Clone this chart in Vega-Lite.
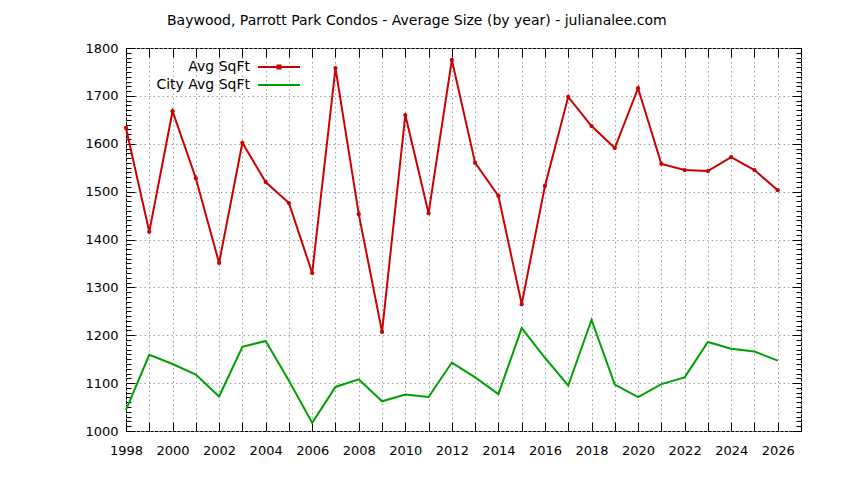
{
  "$schema": "https://vega.github.io/schema/vega-lite/v6.json",
  "description": "Baywood, Parrott Park condos: average size by year against the city average",
  "autosize": "none",
  "padding": {"left": 126, "top": 48, "right": 43, "bottom": 49},
  "width": 675,
  "height": 383,
  "title": {
    "text": "Baywood, Parrott Park Condos - Average Size (by year) - julianalee.com",
    "anchor": "start",
    "frame": "group",
    "dx": 41,
    "offset": 3,
    "baseline": "alphabetic",
    "font": "DejaVu Sans",
    "fontSize": 14,
    "fontWeight": "normal",
    "color": "black"
  },
  "data": {
    "values": [
      {"year": 1998, "series": "Avg SqFt", "sqft": 1633},
      {"year": 1999, "series": "Avg SqFt", "sqft": 1416},
      {"year": 2000, "series": "Avg SqFt", "sqft": 1668},
      {"year": 2001, "series": "Avg SqFt", "sqft": 1528},
      {"year": 2002, "series": "Avg SqFt", "sqft": 1351},
      {"year": 2003, "series": "Avg SqFt", "sqft": 1602},
      {"year": 2004, "series": "Avg SqFt", "sqft": 1520},
      {"year": 2005, "series": "Avg SqFt", "sqft": 1476},
      {"year": 2006, "series": "Avg SqFt", "sqft": 1330},
      {"year": 2007, "series": "Avg SqFt", "sqft": 1758},
      {"year": 2008, "series": "Avg SqFt", "sqft": 1453},
      {"year": 2009, "series": "Avg SqFt", "sqft": 1207},
      {"year": 2010, "series": "Avg SqFt", "sqft": 1660},
      {"year": 2011, "series": "Avg SqFt", "sqft": 1455},
      {"year": 2012, "series": "Avg SqFt", "sqft": 1775},
      {"year": 2013, "series": "Avg SqFt", "sqft": 1560},
      {"year": 2014, "series": "Avg SqFt", "sqft": 1491},
      {"year": 2015, "series": "Avg SqFt", "sqft": 1265},
      {"year": 2016, "series": "Avg SqFt", "sqft": 1512},
      {"year": 2017, "series": "Avg SqFt", "sqft": 1698},
      {"year": 2018, "series": "Avg SqFt", "sqft": 1637},
      {"year": 2019, "series": "Avg SqFt", "sqft": 1591},
      {"year": 2020, "series": "Avg SqFt", "sqft": 1716},
      {"year": 2021, "series": "Avg SqFt", "sqft": 1558},
      {"year": 2022, "series": "Avg SqFt", "sqft": 1545},
      {"year": 2023, "series": "Avg SqFt", "sqft": 1543},
      {"year": 2024, "series": "Avg SqFt", "sqft": 1572},
      {"year": 2025, "series": "Avg SqFt", "sqft": 1545},
      {"year": 2026, "series": "Avg SqFt", "sqft": 1503},
      {"year": 1998, "series": "City Avg SqFt", "sqft": 1044},
      {"year": 1999, "series": "City Avg SqFt", "sqft": 1159},
      {"year": 2000, "series": "City Avg SqFt", "sqft": 1140},
      {"year": 2001, "series": "City Avg SqFt", "sqft": 1118},
      {"year": 2002, "series": "City Avg SqFt", "sqft": 1072},
      {"year": 2003, "series": "City Avg SqFt", "sqft": 1176},
      {"year": 2004, "series": "City Avg SqFt", "sqft": 1188},
      {"year": 2005, "series": "City Avg SqFt", "sqft": 1105},
      {"year": 2006, "series": "City Avg SqFt", "sqft": 1017},
      {"year": 2007, "series": "City Avg SqFt", "sqft": 1092},
      {"year": 2008, "series": "City Avg SqFt", "sqft": 1108},
      {"year": 2009, "series": "City Avg SqFt", "sqft": 1062},
      {"year": 2010, "series": "City Avg SqFt", "sqft": 1076},
      {"year": 2011, "series": "City Avg SqFt", "sqft": 1071},
      {"year": 2012, "series": "City Avg SqFt", "sqft": 1143},
      {"year": 2013, "series": "City Avg SqFt", "sqft": 1112},
      {"year": 2014, "series": "City Avg SqFt", "sqft": 1077},
      {"year": 2015, "series": "City Avg SqFt", "sqft": 1215},
      {"year": 2016, "series": "City Avg SqFt", "sqft": 1153},
      {"year": 2017, "series": "City Avg SqFt", "sqft": 1095},
      {"year": 2018, "series": "City Avg SqFt", "sqft": 1232},
      {"year": 2019, "series": "City Avg SqFt", "sqft": 1097},
      {"year": 2020, "series": "City Avg SqFt", "sqft": 1071},
      {"year": 2021, "series": "City Avg SqFt", "sqft": 1098},
      {"year": 2022, "series": "City Avg SqFt", "sqft": 1112},
      {"year": 2023, "series": "City Avg SqFt", "sqft": 1186},
      {"year": 2024, "series": "City Avg SqFt", "sqft": 1172},
      {"year": 2025, "series": "City Avg SqFt", "sqft": 1166},
      {"year": 2026, "series": "City Avg SqFt", "sqft": 1147}
    ]
  },
  "layer": [
    {
      "mark": {"type": "line", "strokeWidth": 2},
      "encoding": {
        "x": {
          "field": "year",
          "type": "quantitative",
          "scale": {"domain": [1998, 2027], "nice": false, "zero": false},
          "axis": {
            "orient": "bottom",
            "title": null,
            "format": "d",
            "values": [1998, 1999, 2000, 2001, 2002, 2003, 2004, 2005, 2006, 2007, 2008, 2009, 2010, 2011, 2012, 2013, 2014, 2015, 2016, 2017, 2018, 2019, 2020, 2021, 2022, 2023, 2024, 2025, 2026, 2027],
            "labelExpr": "datum.value % 2 === 0 ? datum.label : ''",
            "labelOverlap": false,
            "labelFlush": false,
            "tickSize": -9,
            "labelPadding": 22,
            "grid": true
          }
        },
        "y": {
          "field": "sqft",
          "type": "quantitative",
          "scale": {"domain": [1000, 1800], "nice": false, "zero": false},
          "axis": {
            "orient": "left",
            "title": null,
            "format": "d",
            "values": [1000, 1010, 1020, 1030, 1040, 1050, 1060, 1070, 1080, 1090, 1100, 1110, 1120, 1130, 1140, 1150, 1160, 1170, 1180, 1190, 1200, 1210, 1220, 1230, 1240, 1250, 1260, 1270, 1280, 1290, 1300, 1310, 1320, 1330, 1340, 1350, 1360, 1370, 1380, 1390, 1400, 1410, 1420, 1430, 1440, 1450, 1460, 1470, 1480, 1490, 1500, 1510, 1520, 1530, 1540, 1550, 1560, 1570, 1580, 1590, 1600, 1610, 1620, 1630, 1640, 1650, 1660, 1670, 1680, 1690, 1700, 1710, 1720, 1730, 1740, 1750, 1760, 1770, 1780, 1790, 1800],
            "labelExpr": "datum.value % 100 === 0 ? datum.label : ''",
            "labelOverlap": false,
            "labelFlush": false,
            "tickSize": {"condition": {"test": "datum.value % 100 === 0", "value": -9}, "value": -5},
            "gridOpacity": {"condition": {"test": "datum.value % 100 === 0", "value": 1}, "value": 0},
            "labelPadding": 17,
            "grid": true
          }
        },
        "color": {
          "field": "series",
          "type": "nominal",
          "scale": {"domain": ["Avg SqFt", "City Avg SqFt"], "range": ["#cc0000", "#00a000"]},
          "legend": {
            "title": null,
            "orient": "none",
            "legendX": 146,
            "legendY": 12,
            "padding": 0,
            "symbolType": "M-4.2,0H4.2",
            "symbolSize": 100,
            "symbolStrokeWidth": 2,
            "labelAlign": "right",
            "labelOffset": -36,
            "labelFont": "DejaVu Sans",
            "labelFontSize": 14,
            "labelColor": "black",
            "rowPadding": 4,
            "encode": {
              "symbols": {
                "update": {
                  "shape": {"signal": "datum.value === 'Avg SqFt' ? 'M-4.2,0H4.2M-0.3,-0.3H0.3V0.3H-0.3Z' : 'M-4.2,0H4.2'"}
                }
              }
            }
          }
        }
      }
    },
    {
      "transform": [{"filter": "datum.series === 'Avg SqFt'"}],
      "mark": {"type": "point", "filled": true, "shape": "circle", "size": 18, "opacity": 1},
      "encoding": {
        "x": {
          "field": "year",
          "type": "quantitative",
          "axis": {
            "orient": "top",
            "title": null,
            "values": [1998, 1999, 2000, 2001, 2002, 2003, 2004, 2005, 2006, 2007, 2008, 2009, 2010, 2011, 2012, 2013, 2014, 2015, 2016, 2017, 2018, 2019, 2020, 2021, 2022, 2023, 2024, 2025, 2026, 2027],
            "labels": false,
            "tickSize": -9,
            "grid": false
          }
        },
        "y": {
          "field": "sqft",
          "type": "quantitative",
          "axis": {
            "orient": "right",
            "title": null,
            "values": [1000, 1010, 1020, 1030, 1040, 1050, 1060, 1070, 1080, 1090, 1100, 1110, 1120, 1130, 1140, 1150, 1160, 1170, 1180, 1190, 1200, 1210, 1220, 1230, 1240, 1250, 1260, 1270, 1280, 1290, 1300, 1310, 1320, 1330, 1340, 1350, 1360, 1370, 1380, 1390, 1400, 1410, 1420, 1430, 1440, 1450, 1460, 1470, 1480, 1490, 1500, 1510, 1520, 1530, 1540, 1550, 1560, 1570, 1580, 1590, 1600, 1610, 1620, 1630, 1640, 1650, 1660, 1670, 1680, 1690, 1700, 1710, 1720, 1730, 1740, 1750, 1760, 1770, 1780, 1790, 1800],
            "labels": false,
            "tickSize": {"condition": {"test": "datum.value % 100 === 0", "value": -9}, "value": -5},
            "grid": false
          }
        },
        "color": {"field": "series", "type": "nominal"}
      }
    }
  ],
  "resolve": {"axis": {"x": "independent", "y": "independent"}},
  "config": {
    "background": "white",
    "view": {"stroke": "black", "strokeWidth": 1},
    "axis": {
      "domain": false,
      "tickColor": "black",
      "tickWidth": 1,
      "gridColor": "#a0a0a0",
      "gridDash": [1.5, 3],
      "gridWidth": 1,
      "labelFont": "DejaVu Sans",
      "labelFontSize": 13,
      "labelColor": "black"
    }
  }
}
